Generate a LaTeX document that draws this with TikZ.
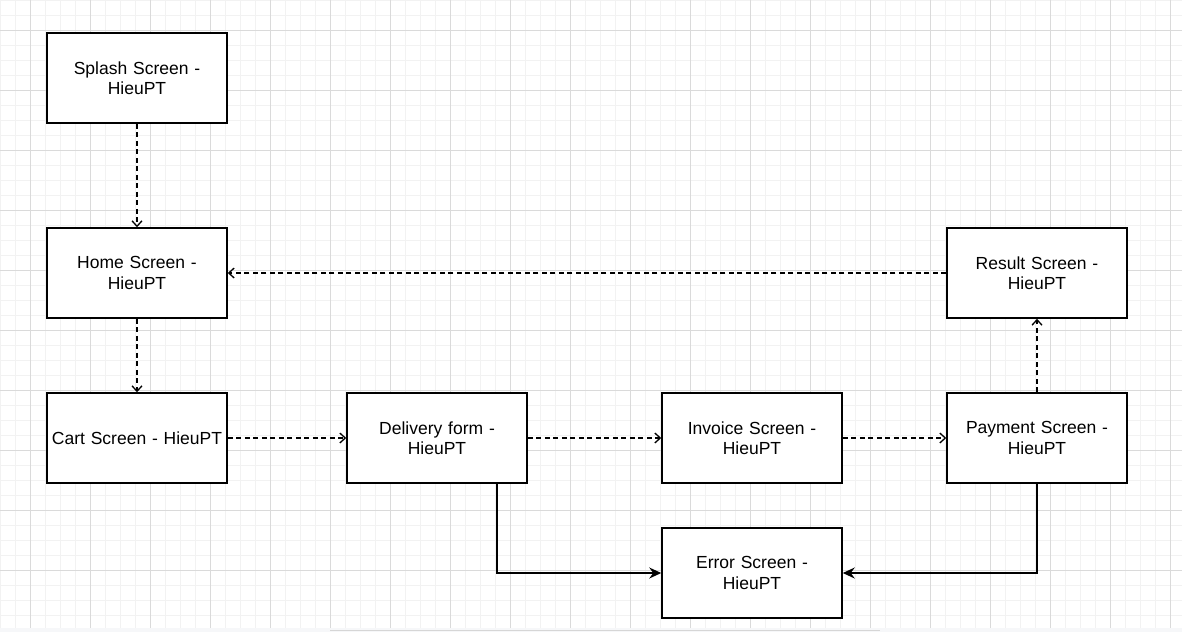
\documentclass[tikz,border=0pt]{standalone}
\usepackage{fontspec}
\setmainfont{Liberation Sans}
\usetikzlibrary{arrows.meta}
\definecolor{gridminor}{HTML}{F2F2F2}
\definecolor{gridmajor}{HTML}{DADADA}
\definecolor{bottomstrip}{HTML}{F6F7F9}
\definecolor{scrollbar}{HTML}{D6D6D6}
\begin{document}
\begin{tikzpicture}[x=1pt,y=-1pt,
  box/.style={draw=black, line width=1.5pt, fill=white, minimum width=180pt, minimum height=90pt,
    align=center, inner sep=0pt, text width=178pt, font=\fontsize{17.5}{20.5}\selectfont},
  dashlink/.style={draw=black, line width=1.4pt, dash pattern=on 5pt off 3.5pt,
    -{Straight Barb[length=5.5pt,width=10pt,line width=1.3pt]}},
  solidlink/.style={draw=black, line width=1.5pt,
    -{Stealth[length=12pt,width=11pt,inset=4pt]}},
  minorline/.style={draw=gridminor, line width=1pt},
  majorline/.style={draw=gridmajor, line width=1pt}]
\useasboundingbox (0,0) rectangle (1182,632);
\fill[white] (0,0) rectangle (1182,628);
\fill[bottomstrip] (0,628) rectangle (1182,632);
% grid
\foreach \i in {0,...,78} {\draw[minorline] ({0.7+15*\i},0) -- ({0.7+15*\i},628);}
\foreach \i in {0,...,41} {\draw[minorline] (0,{0.7+15*\i}) -- (1182,{0.7+15*\i});}
\foreach \i in {0,...,19} {\draw[majorline] ({30.7+60*\i},0) -- ({30.7+60*\i},628);}
\foreach \i in {0,...,9} {\draw[majorline] (0,{30.7+60*\i}) -- (1182,{30.7+60*\i});}
\draw[scrollbar, line width=1.2pt] (330,630.6) -- (880,630.6);
% nodes
\node[box] (splash) at (137,78) {Splash Screen -\\HieuPT};
\node[box] (home) at (137,273) {Home Screen -\\HieuPT};
\node[box] (cart) at (137,438) {Cart Screen - HieuPT};
\node[box] (delivery) at (437,438) {Delivery form -\\HieuPT};
\node[box] (invoice) at (752,438) {Invoice Screen -\\HieuPT};
\node[box] (payment) at (1037,438) {Payment Screen -\\HieuPT};
\node[box] (result) at (1037,273) {Result Screen -\\HieuPT};
\node[box] (error) at (752,573) {Error Screen -\\HieuPT};
% connectors
\draw[dashlink] (splash) -- (home);
\draw[dashlink] (home) -- (cart);
\draw[dashlink] (cart) -- (delivery);
\draw[dashlink] (delivery) -- (invoice);
\draw[dashlink] (invoice) -- (payment);
\draw[dashlink] (payment) -- (result);
\draw[dashlink] (result) -- (home);
\draw[solidlink] ([xshift=60pt]delivery.south) |- (error.west);
\draw[solidlink] (payment.south) |- (error.east);
\end{tikzpicture}
\end{document}
